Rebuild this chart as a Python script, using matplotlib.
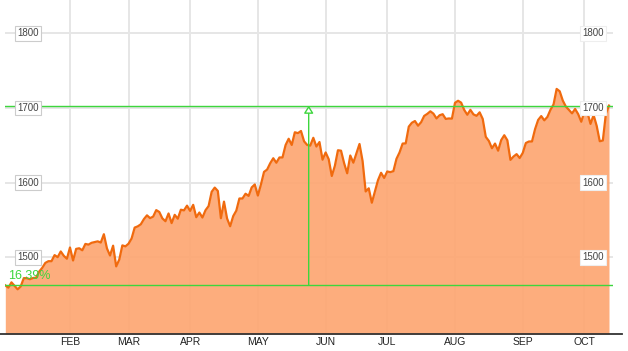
import numpy as np
import pandas as pd
import matplotlib
matplotlib.use("Agg")
import matplotlib.pyplot as plt
from matplotlib.lines import Line2D

# ----------------------------
# Data: daily closes, Jan 2 - Oct 11
# ----------------------------
closes = [
    # Jan
    1462.42, 1459.37, 1466.47, 1461.89, 1457.15, 1461.02, 1472.12, 1472.05, 1470.68, 1472.34,
    1472.63, 1480.94, 1485.98, 1492.56, 1494.81, 1494.82, 1502.96, 1500.18, 1507.84, 1501.96,
    1498.11,
    # Feb
    1513.17, 1495.71, 1511.29, 1512.12, 1509.39, 1517.93, 1517.01, 1519.43, 1520.33, 1521.38,
    1519.79, 1530.94, 1511.95, 1502.42, 1515.60, 1487.85, 1496.94, 1515.99, 1514.68,
    # Mar
    1518.20, 1525.20, 1539.79, 1541.46, 1544.26, 1551.18, 1556.22, 1552.48, 1554.52, 1563.23,
    1560.70, 1552.10, 1548.34, 1558.71, 1545.80, 1556.89, 1551.69, 1563.77, 1562.85, 1569.19,
    # Apr
    1562.17, 1570.25, 1553.69, 1559.98, 1553.28, 1563.07, 1568.61, 1587.73, 1593.37, 1588.85,
    1552.36, 1574.57, 1552.01, 1541.61, 1555.25, 1562.50, 1578.78, 1578.79, 1585.16, 1582.24,
    1593.61, 1597.57,
    # May
    1582.70, 1597.59, 1614.42, 1617.50, 1625.96, 1632.69, 1626.67, 1633.70, 1633.77, 1650.34,
    1658.78, 1650.47, 1667.47, 1666.29, 1669.16, 1655.35, 1650.51, 1649.60, 1660.06, 1648.36,
    1654.41, 1630.74,
    # Jun
    1640.42, 1631.38, 1608.90, 1622.56, 1643.38, 1642.81, 1626.13, 1612.52, 1636.36, 1626.73,
    1639.04, 1651.81, 1628.93, 1588.19, 1592.43, 1573.09, 1588.03, 1603.26, 1613.20, 1606.28,
    # Jul
    1614.96, 1614.08, 1615.41, 1631.89, 1640.46, 1652.32, 1652.62, 1675.02, 1680.19, 1682.50,
    1676.26, 1680.91, 1689.37, 1692.09, 1695.53, 1692.39, 1685.94, 1690.25, 1691.65, 1685.33,
    1685.96, 1685.73,
    # Aug
    1706.87, 1709.67, 1707.14, 1697.37, 1690.91, 1697.48, 1691.42, 1689.47, 1694.16, 1685.39,
    1661.32, 1655.83, 1646.06, 1652.35, 1642.80, 1656.96, 1663.50, 1656.78, 1630.48, 1634.96,
    1638.17, 1632.97,
    # Sep
    1639.77, 1653.08, 1655.08, 1655.17, 1671.71, 1683.99, 1689.13, 1683.42, 1687.99, 1697.60,
    1704.76, 1725.52, 1722.34, 1709.91, 1701.84, 1697.42, 1692.77, 1698.67, 1691.75, 1681.55,
    # Oct
    1695.00, 1693.87, 1678.66, 1690.50, 1676.12, 1655.45, 1656.40, 1692.56, 1703.20,
]

holidays = ["2013-01-21", "2013-02-18", "2013-03-29", "2013-05-27", "2013-07-04", "2013-09-02"]
dates = pd.bdate_range("2013-01-02", "2013-10-11", freq="C", holidays=holidays)

month_labels = ["FEB", "MAR", "APR", "MAY", "JUN", "JUL", "AUG", "SEP", "OCT"]
y_ticks = [1500, 1600, 1700, 1800]
change_label = "16.39%"

# ----------------------------
# Colours
# ----------------------------
LINE = "#f06a0e"
FILL = "#fda672"
GREEN = "#3dd63d"
GRID = "#e6e6e6"

x = np.arange(len(closes))
y = np.array(closes)

# month start positions (first trading day of each month)
month_idx = [int(np.argmax(dates.month == m)) for m in range(2, 11)]

fig = plt.figure(figsize=(6.28, 3.51), dpi=100)
ax = fig.add_axes([5 / 628, 17 / 351, 608 / 628, 334 / 351])
ax.set_xlim(-0.1, 197.3)
ax.set_ylim(1397.3, 1844.6)
ax.axis("off")

# grid
for m in month_idx:
    ax.axvline(m, color=GRID, lw=1.4, zorder=0)
for t in y_ticks:
    ax.axhline(t, color=GRID, lw=1.4, zorder=0)

# area
ax.fill_between(x, y, 1397.3, color=FILL, alpha=0.92, lw=0, zorder=1)
ax.plot(x, y, color=LINE, lw=1.6, zorder=3, solid_joinstyle="round")

# change markers
base, last = closes[0], closes[-1]
ax.axhline(base, color=GREEN, lw=1, zorder=4)
ax.axhline(last, color=GREEN, lw=1, zorder=4)
mid = len(closes) / 2
ax.annotate("", xy=(mid, last), xytext=(mid, base),
            arrowprops=dict(arrowstyle="-|>,head_length=0.45,head_width=0.28",
                            fc="white", ec=GREEN, lw=1, shrinkA=0, shrinkB=0),
            zorder=5)
ax.text(1.0, base + 5, change_label, color=GREEN, fontsize=9,
        family="Liberation Sans", ha="left", va="bottom", zorder=6)

# y labels (boxed, inside plot)
for t in y_ticks:
    ax.text(7.4, t, str(t), fontsize=7, family="Liberation Sans", color="#444444",
            ha="center", va="center", zorder=6,
            bbox=dict(boxstyle="square,pad=0.25", fc="white", ec="#cccccc", lw=0.8))
    ax.text(190.8, t, str(t), fontsize=7, family="Liberation Sans", color="#444444",
            ha="center", va="center", zorder=6,
            bbox=dict(boxstyle="square,pad=0.25", fc="white", ec="#eeeeee", lw=0.8))

# month labels
for m, lab in zip(month_idx, month_labels):
    ax.text(m, 1386, lab, fontsize=7.5, family="Liberation Sans", color="#222222",
            ha="center", va="center", clip_on=False)

# bottom axis line
fig.add_artist(Line2D([0, 622 / 628], [17 / 351, 17 / 351], color="#333333", lw=1.3))

fig.savefig("out.png", dpi=100)
